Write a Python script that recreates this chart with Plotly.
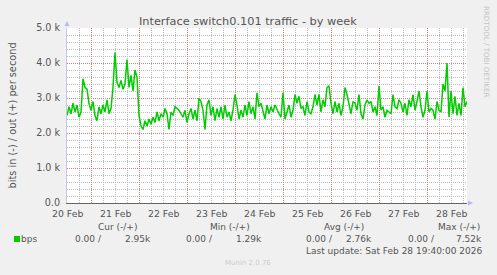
import pandas as pd
import plotly.graph_objects as go

# ---- data (values in k bits/s, hourly samples) ----
start_time = "2026-02-20 11:40"
end_time = "2026-02-28 19:40"
out_k = [
    2.5, 2.75, 2.55, 2.85, 2.6, 2.8, 2.45, 2.6, 3.55, 3.3,
    3.25, 2.85, 2.65, 2.9, 2.5, 2.35, 2.75, 2.55, 2.8, 2.6,
    2.95, 2.55, 2.7, 3.3, 4.3, 3.45, 3.3, 3.5, 3.25, 3.4,
    4.1, 3.3, 3.65, 3.2, 3.8, 3.6, 2.5, 2.2, 2.1, 2.35,
    2.2, 2.4, 2.25, 2.45, 2.3, 2.6, 2.35, 2.55, 2.45, 2.7,
    2.55, 2.1, 2.6, 2.5, 2.75, 2.7, 2.65, 2.55, 2.45, 2.65,
    2.3, 2.55, 2.7, 2.4, 2.65, 2.35, 3.0, 2.9, 2.65, 2.1,
    2.8, 2.95, 2.5, 2.75, 2.35, 2.7, 2.45, 2.75, 2.4, 2.8,
    2.45, 2.6, 2.35, 2.65, 3.1, 2.8, 2.4, 2.65, 2.45, 2.8,
    2.5, 2.9, 2.55, 2.75, 2.4, 3.15, 2.75, 2.85, 2.6, 2.4,
    2.8, 2.55, 2.75, 2.6, 2.8, 2.65, 2.55, 2.45, 3.15, 2.4,
    2.6, 2.8, 2.45, 2.65, 3.1, 2.85, 3.05, 2.7, 2.75, 2.5,
    2.9, 2.6, 2.55, 2.75, 3.1, 2.8, 3.1, 2.6, 2.95, 2.75,
    3.3, 3.35, 2.85, 2.55, 2.9, 2.6, 2.85, 2.5, 2.75, 3.3,
    3.1, 2.8, 2.55, 2.9, 2.85, 2.65, 3.1, 2.55, 2.4, 2.8,
    2.95, 2.85, 2.9, 2.6, 2.75, 2.5, 3.35, 2.65, 2.75, 2.45,
    2.65, 2.6, 2.55, 3.1, 2.75, 2.7, 2.95, 2.85, 2.6, 2.85,
    2.5, 2.95, 2.75, 3.1, 2.65, 2.9, 3.2, 2.75, 2.45, 2.65,
    3.2, 2.6, 2.7, 2.65, 2.4, 2.9, 2.65, 2.6, 3.4, 3.2,
    4.0, 2.45, 3.2, 2.55, 3.05, 2.5, 2.85, 2.5, 3.3, 2.75,
    2.9,
]
day_labels = ["20 Feb", "21 Feb", "22 Feb", "23 Feb", "24 Feb",
              "25 Feb", "26 Feb", "27 Feb", "28 Feb"]
day_label_times = ["2026-02-%02d 12:00" % d for d in range(20, 29)]
y_tick_vals = [0, 1000, 2000, 3000, 4000, 5000]
y_tick_text = ["0.0", "1.0 k", "2.0 k", "3.0 k", "4.0 k", "5.0 k"]

legend_cols = ["Cur (-/+)", "Min (-/+)", "Avg (-/+)", "Max (-/+)"]
legend_neg = ["0.00 /", "0.00 /", "0.00 /", "0.00 /"]
legend_pos = ["2.95k", "1.29k", "2.76k", "7.52k"]
series_name = "bps"
last_update = "Last update: Sat Feb 28 19:40:00 2026"

times = pd.date_range(start_time, periods=len(out_k), freq="h")
out_bps = [v * 1000 for v in out_k]

# grid positions: midnights (major) and 6-hourly (minor, excluding midnights)
six_hourly = pd.date_range("2026-02-20 12:00", end_time, freq="6h")
midnights = [t for t in six_hourly if t.hour == 0]
minor_x = [t for t in six_hourly if t.hour != 0]
minor_y = [v for v in range(200, 5001, 200) if v % 1000 != 0]

FONT = "DejaVu Sans"
TXT = "#555555"
RED_GRID = "#e07a7a"
GRAY_GRID = "#bcbcbc"
W, H = 497, 275
L, R, T, B = 67, 467, 28, 203
XR = [start_time, end_time]
YR = [0, 5000]


def px(x):
    return (x - L) / (R - L)


def py(y):
    return (B - y) / (B - T)


fig = go.Figure()
fig.add_trace(go.Scatter(x=XR, y=[None, None], xaxis="x2", yaxis="y2",
                         mode="lines", showlegend=False, hoverinfo="skip"))
fig.add_trace(go.Scatter(x=XR, y=[None, None], xaxis="x3", yaxis="y",
                         mode="lines", showlegend=False, hoverinfo="skip"))
fig.add_trace(go.Scatter(x=times, y=out_bps, mode="lines", xaxis="x", yaxis="y",
                         line=dict(color="#00cc00", width=1.5),
                         showlegend=False, hoverinfo="skip"))

dash = "1px,1px"
fig.update_layout(
    width=W, height=H,
    margin=dict(l=L, r=W - R, t=T, b=H - B, pad=0),
    paper_bgcolor="#f0f0f0", plot_bgcolor="#ffffff",
    font=dict(family=FONT, color=TXT, size=9),
    showlegend=False,
    xaxis=dict(
        type="date", range=XR, tickmode="array", tickvals=minor_x,
        showticklabels=False, ticks="",
        showgrid=True, gridcolor=GRAY_GRID, griddash=dash, gridwidth=1,
        showline=True, linecolor="#666666", linewidth=1,
        zeroline=False, fixedrange=True,
    ),
    xaxis2=dict(
        type="date", range=XR, overlaying="x", anchor="y2",
        tickmode="array", tickvals=midnights, showticklabels=False, ticks="",
        showgrid=True, gridcolor=RED_GRID, griddash=dash, gridwidth=1,
        showline=False, zeroline=False, fixedrange=True,
    ),
    xaxis3=dict(
        type="date", range=XR, overlaying="x", side="bottom", anchor="y",
        tickmode="array", tickvals=day_label_times, ticktext=day_labels,
        showgrid=False, ticks="", ticklabelstandoff=4,
        tickfont=dict(size=9.3, color=TXT, family=FONT),
        showline=False, zeroline=False, fixedrange=True,
    ),
    yaxis=dict(
        range=YR, tickmode="array", tickvals=minor_y, showticklabels=False, ticks="",
        showgrid=True, gridcolor=GRAY_GRID, griddash=dash, gridwidth=1,
        showline=True, linecolor="#c4c8ec", linewidth=1,
        zeroline=False, fixedrange=True,
    ),
    yaxis2=dict(
        range=YR, overlaying="y", side="left", anchor="x",
        tickmode="array", tickvals=y_tick_vals, ticktext=y_tick_text,
        showgrid=True, gridcolor=RED_GRID, griddash=dash, gridwidth=1,
        ticks="", ticklabelstandoff=6,
        tickfont=dict(size=9.6, color=TXT, family=FONT),
        showline=False, zeroline=False, fixedrange=True,
    ),
)

ann = []
ann.append(dict(text="Interface switch0.101 traffic - by week", x=px(248.3), y=py(21.5),
                xanchor="center", yanchor="middle", font=dict(size=11.3, color=TXT)))
ann.append(dict(text="bits in (-) / out (+) per second", x=px(11.5), y=py(115),
                textangle=-90, xanchor="center", yanchor="middle",
                font=dict(size=9.8, color=TXT)))
ann.append(dict(text="RRDTOOL / TOBI OETIKER", x=px(487), y=py(51),
                textangle=90, xanchor="center", yanchor="middle",
                font=dict(size=7.1, color="#c4c4c4")))
col_right = [137.5, 251, 365, 481]
neg_right = [102.5, 214, 334, 436]
pos_right = [151.5, 262.5, 372.5, 483]
for i in range(4):
    ann.append(dict(text=legend_cols[i], x=px(col_right[i]), y=py(227.3),
                    xanchor="right", yanchor="middle", font=dict(size=9, color=TXT)))
    ann.append(dict(text=legend_neg[i], x=px(neg_right[i]), y=py(239),
                    xanchor="right", yanchor="middle", font=dict(size=9, color=TXT)))
    ann.append(dict(text=legend_pos[i], x=px(pos_right[i]), y=py(239),
                    xanchor="right", yanchor="middle", font=dict(size=9, color=TXT)))
ann.append(dict(text=series_name, x=px(20), y=py(239), xanchor="left", yanchor="middle",
                font=dict(size=9, color=TXT)))
ann.append(dict(text=last_update, x=px(483), y=py(251), xanchor="right", yanchor="middle",
                font=dict(size=9, color=TXT)))
ann.append(dict(text="Munin 2.0.76", x=px(248), y=py(262.7), xanchor="center",
                yanchor="middle", font=dict(size=7, color="#cccccc")))
for a in ann:
    a.update(xref="paper", yref="paper", showarrow=False, borderpad=0)
# axis arrowheads
ann.append(dict(text="", xref="paper", yref="paper", x=px(67), y=py(21), ax=0, ay=7,
                showarrow=True, arrowhead=2, arrowsize=1, arrowwidth=1,
                arrowcolor="#b8bce8"))
ann.append(dict(text="", xref="paper", yref="paper", x=px(473), y=py(203), ax=-7, ay=0,
                showarrow=True, arrowhead=2, arrowsize=1, arrowwidth=1,
                arrowcolor="#b8bce8"))
fig.update_layout(annotations=ann)

fig.update_layout(shapes=[
    dict(type="rect", xref="paper", yref="paper", x0=px(14), x1=px(20),
         y0=py(242), y1=py(236), fillcolor="#00cc00", line=dict(width=0)),
])

fig.write_html("out.html")
